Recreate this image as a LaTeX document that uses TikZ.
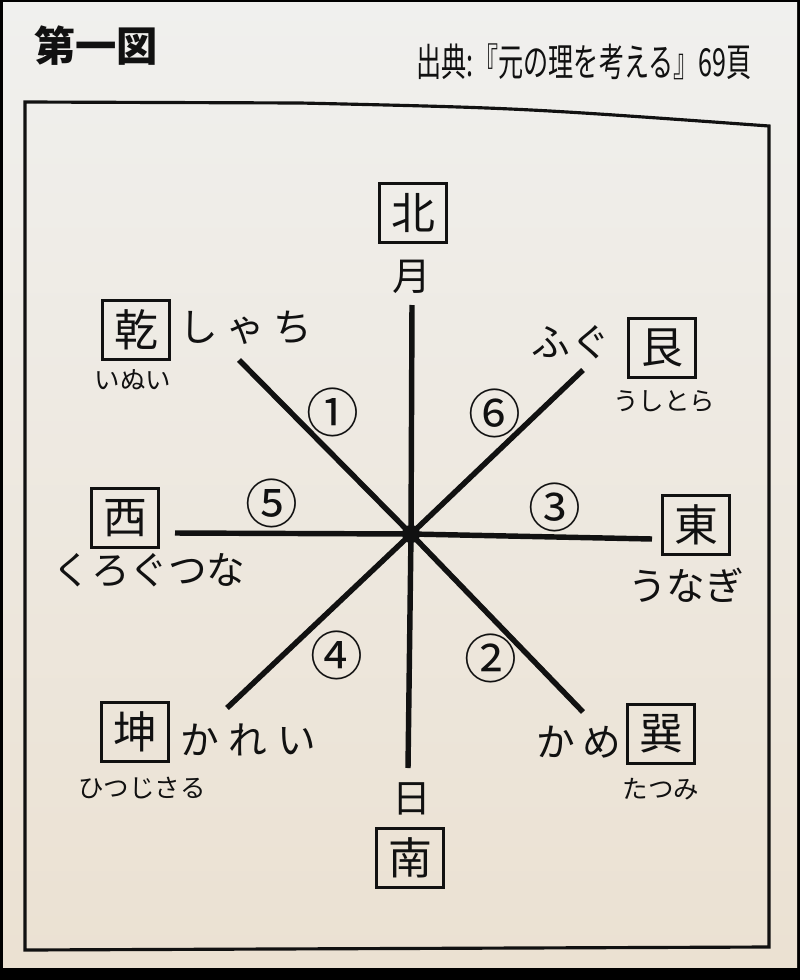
\documentclass[tikz,border=0pt]{standalone}
\usepackage{fontspec}
\setmainfont{Noto Sans CJK JP}
\usetikzlibrary{positioning}
\definecolor{paperA}{HTML}{F0F0EE}
\definecolor{paperB}{HTML}{EBE1D2}
\definecolor{ink}{HTML}{111111}

\begin{document}
\begin{tikzpicture}[x=0.02cm, y=-0.02cm, ink,
  hoi/.style={draw, line width=1.8pt, minimum width=1.34cm, minimum height=1.17cm, inner sep=0pt, font=\fontsize{25}{25}\selectfont},
  sakana/.style={inner sep=0pt, font=\fontsize{22}{22}\selectfont},
  yomi/.style={inner sep=0pt, font=\fontsize{14.5}{14.5}\selectfont},
  maru/.style={inner sep=0pt, font=\fontsize{30}{30}\selectfont},
  sen/.style={line width=3.1pt}]
\useasboundingbox (0,0) rectangle (800,980);
\fill[black] (0,0) rectangle (800,980);
\shade[top color=paperA, bottom color=paperB] (3,3) rectangle (797,967);

% heading
\node[inner sep=0pt, font=\fontsize{23.5}{23.5}\selectfont\bfseries] (title) at (96,46) {第一図};
\node[inner sep=0pt, xscale=0.65, font=\fontsize{22}{22}\selectfont] (source) at (584,62) {出典:『元の理を考える』69頁};

% frame
\draw[line width=1.8pt] (25,102) -- (300,103) .. controls (520,108) .. (769,126) -- (769,947) -- (25,950) -- cycle;

% directions
\node[hoi] (kita) at (413,213) {北};
\node[hoi] (minami) at (410,858) {南};
\node[hoi] (nishi) at (125,518) {西};
\node[hoi] (higashi) at (696,525) {東};
\node[hoi] (inui) at (136,330) {乾};
\node[hoi] (ushitora) at (662,348) {艮};
\node[hoi] (hitsujisaru) at (135,732) {坤};
\node[hoi] (tatsumi) at (661,734) {巽};

\node[yomi] (yInui) at (133,380) {いぬい};
\node[yomi] (yUshitora) at (664,401) {うしとら};
\node[yomi] (yHitsujisaru) at (142,788) {ひつじさる};
\node[yomi] (yTatsumi) at (661,789) {たつみ};

\node[sakana] (tsuki) at (412,277) {月};
\node[sakana] (hi) at (412,799) {日};
\node[sakana] (shachi) at (246,328) {し\kern0.17cmゃ\kern0.17cmち};
\node[sakana] (kurogutsuna) at (149,570) {くろぐつな};
\node[sakana] (fugu) at (571,342) {ふ\kern0.04cmぐ};
\node[sakana] (unagi) at (686,585) {うなぎ};
\node[sakana] (karei) at (248,740) {か\kern0.2cmれ\kern0.2cmい};
\node[sakana] (kame) at (579,742) {か\kern0.14cmめ};

% spokes
\coordinate (c) at (411,534);
\coordinate (eN) at (412,305);
\coordinate (eS) at (408,768);
\coordinate (eW) at (175,533);
\coordinate (eE) at (652,539);
\coordinate (eNW) at (239,360);
\coordinate (eNE) at (583,370);
\coordinate (eSW) at (227,708);
\coordinate (eSE) at (583,712);
\foreach \e in {eN,eS,eW,eE,eNW,eNE,eSW,eSE}
  \draw[sen] (c) -- (\e);
\fill (c) circle[radius=0.18cm];

\node[maru] (m1) at (333,412) {①};
\node[maru] (m2) at (491,658) {②};
\node[maru] (m3) at (555,507) {③};
\node[maru] (m4) at (337,655) {④};
\node[maru] (m5) at (272,503) {⑤};
\node[maru] (m6) at (495,413) {⑥};
\end{tikzpicture}
\end{document}
